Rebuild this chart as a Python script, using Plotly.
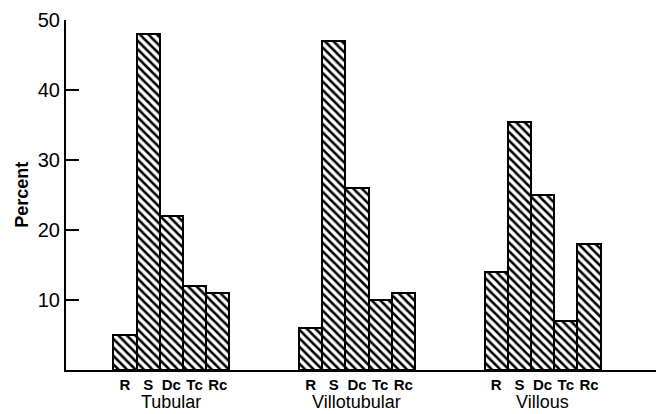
import plotly.graph_objects as go

groups = ["Tubular", "Villotubular", "Villous"]
bar_labels = ["R", "S", "Dc", "Tc", "Rc"]
tubular = [5, 48, 22, 12, 11]
villotubular = [6, 47, 26, 10, 11]
villous = [14, 35.5, 25, 7, 18]
y_ticks = [10, 20, 30, 40, 50]

series = [tubular, villotubular, villous]
group_gap = 8

fig = go.Figure()
xs, ys, tick_x, tick_t = [], [], [], []
for gi, vals in enumerate(series):
    for bi, v in enumerate(vals):
        xs.append(gi * group_gap + bi)
        ys.append(v)
        tick_x.append(gi * group_gap + bi)
        tick_t.append(bar_labels[bi])

fig.add_trace(go.Bar(
    x=xs, y=ys, width=1,
    marker=dict(
        color="white",
        line=dict(color="black", width=2),
        pattern=dict(shape="\\", fgcolor="black", bgcolor="white",
                     size=6, solidity=0.42, fillmode="replace"),
    ),
    showlegend=False,
))

font = "Liberation Sans, Arial, sans-serif"

for gi, g in enumerate(groups):
    fig.add_annotation(x=gi * group_gap + 2, y=-0.092, xref="x", yref="paper",
                       text=g, showarrow=False, yanchor="middle", xanchor="center",
                       font=dict(family=font, size=18, color="black"))

fig.add_annotation(x=-0.075, y=0.5, xref="paper", yref="paper", text="<b>Percent</b>",
                   textangle=-90, showarrow=False, xanchor="center", yanchor="middle",
                   font=dict(family=font, size=18, color="black"))

# the page body adds an 8px offset, so the figure is sized to fit the window
fig.update_layout(
    width=656, height=406,
    margin=dict(l=58, r=7, t=12, b=44),
    plot_bgcolor="white", paper_bgcolor="white",
    bargap=0,
    xaxis=dict(range=[-2.54, 22.93], tickvals=tick_x,
               ticktext=["<b>%s</b>" % t for t in tick_t],
               showline=True, linecolor="black", linewidth=2,
               ticks="", showgrid=False, zeroline=False, automargin=False,
               tickfont=dict(family=font, size=15, color="black")),
    yaxis=dict(range=[0, 50], tickvals=y_ticks,
               showline=True, linecolor="black", linewidth=2,
               ticks="inside", ticklen=13, tickwidth=2, tickcolor="black",
               showgrid=False, zeroline=False, automargin=False,
               tickfont=dict(family=font, size=20, color="black")),
)

fig.write_html("out.html")
